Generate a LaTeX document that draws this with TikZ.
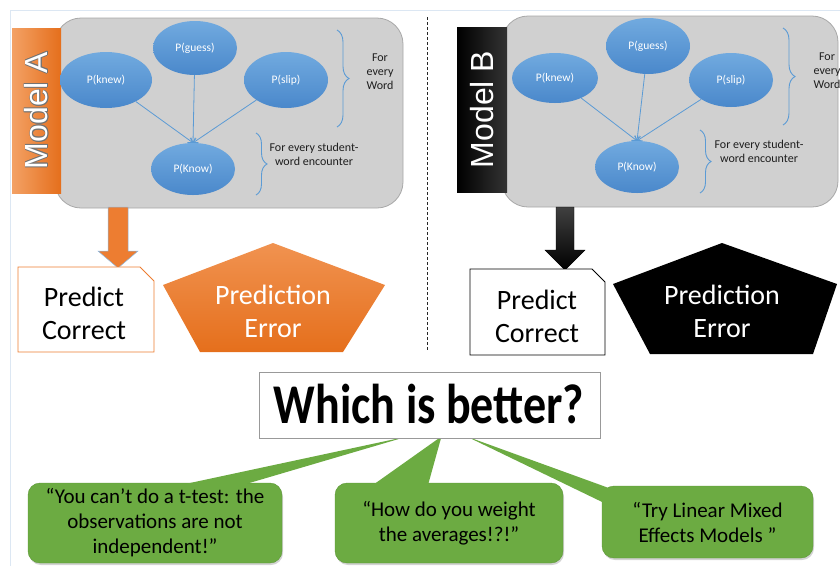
\documentclass[tikz,border=0pt]{standalone}
\usepackage{fontspec}
\setmainfont{Carlito}
\newfontfamily\arialfont{Liberation Sans}
\usetikzlibrary{shapes.geometric,decorations.pathreplacing,arrows.meta,shadows,calc}
\definecolor{frameblue}{HTML}{DCE7F3}
\definecolor{grayfill}{HTML}{D0D0D0}
\definecolor{grayline}{HTML}{A8A8A8}
\definecolor{ellblue}{HTML}{5B9BD5}
\definecolor{ellbluetop}{HTML}{71AADF}
\definecolor{ellbluebot}{HTML}{4A88CB}
\definecolor{orangeA}{HTML}{ED7D31}
\definecolor{orangeL}{HTML}{F3A165}
\definecolor{orangeD}{HTML}{E56F1C}
\definecolor{greenC}{HTML}{6CAB42}
\definecolor{greenD}{HTML}{5C9736}
\definecolor{txtdark}{HTML}{1E1E1E}
\tikzset{
  graybox/.style={draw=grayline, line width=0.8pt, fill=grayfill, rounded corners=26pt, inner sep=0pt},
  ell/.style={ellipse, top color=ellbluetop, bottom color=ellbluebot, draw=none, text=white, inner sep=0pt,
              font=\fontsize{11.5}{13}\selectfont},
  conn/.style={draw=ellblue, line width=0.8pt, -{Straight Barb[length=4pt,width=6pt]}},
  bracestyle/.style={draw=ellblue, line width=0.9pt, decorate, decoration={brace, amplitude=12pt, aspect=0.5}},
  bracetext/.style={align=center, text=txtdark, font=\fontsize{12}{14}\selectfont, inner sep=0pt},
  bigtext/.style={align=center, inner sep=0pt, font=\fontsize{28}{33}\selectfont},
  callout/.style={fill=greenC, draw=greenD, line width=0.4pt, rounded corners=12pt, inner sep=0pt,
                  align=center, text=black, font=\fontsize{21}{25}\selectfont,
                  drop shadow={opacity=0.35, shadow xshift=1pt, shadow yshift=-2pt}},
  tail/.style={fill=greenC, draw=none},
  modeltext/.style={rotate=90, inner sep=0pt, font=\arialfont\fontsize{32}{32}\selectfont}
}
\begin{document}
\begin{tikzpicture}[x=1pt,y=-1pt]
\useasboundingbox (0,0) rectangle (840,566);
\clip (0,0) rectangle (840,566);
% frame lines
\draw[frameblue, line width=1pt] (10,566) -- (10,10) -- (840,10);
% dashed separator
\coordinate (sepTop) at (427,17);
\coordinate (sepBot) at (427,350);
\draw[black!85, line width=0.9pt, dash pattern=on 3pt off 2pt] (sepTop) -- (sepBot);

% ===== Model A =====
\node (grayA) [graybox, minimum width=348pt, minimum height=190pt] at (229,113) {};
\node (barA) [left color=orangeL, right color=orangeD, draw=none, minimum width=49pt, minimum height=165pt, inner sep=0pt] at (36.5,110.5) {};
\foreach \dx/\dy [count=\k] in {0.9/0,-0.9/0,0/0.9,0/-0.9,0.65/0.65,-0.65/0.65,0.65/-0.65,-0.65/-0.65}
  \node (mAo\k) [modeltext, text=black!55] at ($(barA.center)+(\dx,\dy)$) {Model A};
\node (mA) [modeltext, text=white] at (barA.center) {Model A};

\node (guessA) [ell, minimum width=84pt, minimum height=54pt] at (195,48) {P(guess)};
\node (knewA) [ell, minimum width=92pt, minimum height=56pt] at (106,80) {P(knew)};
\node (slipA) [ell, minimum width=84pt, minimum height=56pt] at (286,80) {P(slip)};
\node (knowA) [ell, minimum width=84pt, minimum height=52pt] at (193,169) {P(Know)};
\draw[conn] (knewA) -- (knowA.north);
\draw[conn] (guessA) -- (knowA.north);
\draw[conn] (slipA) -- (knowA.north);

\coordinate (bA1s) at (337,30);
\coordinate (bA1e) at (337,127);
\draw[bracestyle] (bA1s) -- (bA1e);
\node (wordA) [bracetext] at (380,72) {For\\every\\Word};
\coordinate (bA2s) at (256,133);
\coordinate (bA2e) at (256,195);
\draw[bracestyle, decoration={amplitude=11pt}] (bA2s) -- (bA2e);
\node (encA) [bracetext] at (314,154) {For every student-\\word encounter};

% orange block arrow
\coordinate (arrA) at (118,207);
\draw[fill=orangeA, draw=ellblue!70, line width=0.5pt]
  ($(arrA)+(-10,0)$) -- ($(arrA)+(10,0)$) -- ($(arrA)+(10,44)$) -- ($(arrA)+(20,44)$)
  -- ($(arrA)+(0,61)$) -- ($(arrA)+(-20,44)$) -- ($(arrA)+(-10,44)$) -- cycle;

% Predict Correct A
\draw[fill=white, draw=orangeA, line width=0.9pt]
  (18,267) -- (140,267) -- (154,281) -- (154,352) -- (18,352) -- cycle;
\node (pcA) [bigtext, text=black] at (84,313) {Predict\\Correct};

% Pentagon A
\path[top color=orangeL!60!orangeA, bottom color=orangeD]
  (273,243) -- (385,285) -- (343,352) -- (200,352) -- (163,285) -- cycle;
\node (peA) [bigtext, text=white] at (273,311) {Prediction\\Error};

% ===== Model B =====
\node (grayB) [graybox, minimum width=336pt, minimum height=191pt] at (670,111.5) {};
\node (barB) [left color=black, right color=black!80, draw=none, minimum width=50pt, minimum height=165pt, inner sep=0pt] at (482,109.5) {};
\node (mB) [modeltext, text=white] at (barB.center) {Model B};

\node (guessB) [ell, minimum width=84pt, minimum height=56pt] at (648,46) {P(guess)};
\node (knewB) [ell, minimum width=86pt, minimum height=50pt] at (555,78) {P(knew)};
\node (slipB) [ell, minimum width=84pt, minimum height=54pt] at (731,80) {P(slip)};
\node (knowB) [ell, minimum width=84pt, minimum height=52pt] at (637,167) {P(Know)};
\draw[conn] (knewB) -- (knowB.north);
\draw[conn] (guessB) -- (knowB.north);
\draw[conn] (slipB) -- (knowB.north);

\coordinate (bB1s) at (783,28);
\coordinate (bB1e) at (783,125);
\draw[bracestyle] (bB1s) -- (bB1e);
\node (wordB) [bracetext] at (827,71) {For\\every\\Word};
\coordinate (bB2s) at (700,130);
\coordinate (bB2e) at (700,193);
\draw[bracestyle, decoration={amplitude=11pt}] (bB2s) -- (bB2e);
\node (encB) [bracetext] at (759,151) {For every student-\\word encounter};

% black block arrow
\coordinate (arrB) at (565,207);
\draw[top color=black!75, bottom color=black, draw=black, line width=0.4pt]
  ($(arrB)+(-9,0)$) -- ($(arrB)+(9,0)$) -- ($(arrB)+(9,43)$) -- ($(arrB)+(20,43)$)
  -- ($(arrB)+(0,63)$) -- ($(arrB)+(-20,43)$) -- ($(arrB)+(-9,43)$) -- cycle;

% Predict Correct B
\draw[fill=white, draw=black, line width=0.9pt]
  (470,269) -- (592,269) -- (605,282) -- (605,355) -- (470,355) -- cycle;
\node (pcB) [bigtext, text=black] at (537,316) {Predict\\Correct};

% Pentagon B
\path[fill=black]
  (722,243) -- (837,284) -- (813,354) -- (650,354) -- (613,284) -- cycle;
\node (peB) [bigtext, text=white] at (722,311) {Prediction\\Error};

% ===== Which is better =====
\node (which) [draw=black!40, line width=0.8pt, fill=white, minimum width=341pt, minimum height=66pt, inner sep=0pt] at (429.5,405) {};
\node (c1) [callout, minimum width=254pt, minimum height=80pt] at (155,523) {“You can’t do a t-test: the\\observations are not\\independent!”};
\node (c2) [callout, minimum width=228pt, minimum height=80pt] at (449,523) {“How do you weight\\the averages!?!”};
\node (c3) [callout, minimum width=211pt, minimum height=72pt] at (707.5,522) {“Try Linear Mixed\\Effects Models ”};
% tails
\path[tail] ($(which.south)+(-22,-2)$) -- ($(c1.north west)+(149,3)$) -- ($(c1.north west)+(212,3)$) -- cycle;
\path[tail] ($(which.south)+(12,-2)$) -- ($(c2.north west)+(37,3)$) -- ($(c2.north west)+(93,3)$) -- cycle;
\path[tail] ($(which.south)+(37,-2)$) -- ($(c3.north west)+(12,4)$) -- ($(c3.north west)+(2,17)$) -- cycle;
% redraw question box on top
\node (which2) [draw=black!40, line width=0.8pt, fill=white, minimum width=341pt, minimum height=66pt, inner sep=0pt] at (which.center) {};
\node (whichtxt) [inner sep=0pt, text=black, font=\bfseries\fontsize{46}{46}\selectfont] at (429,404) {\scalebox{1}[1.22]{Which is better?}};
\end{tikzpicture}
\end{document}
